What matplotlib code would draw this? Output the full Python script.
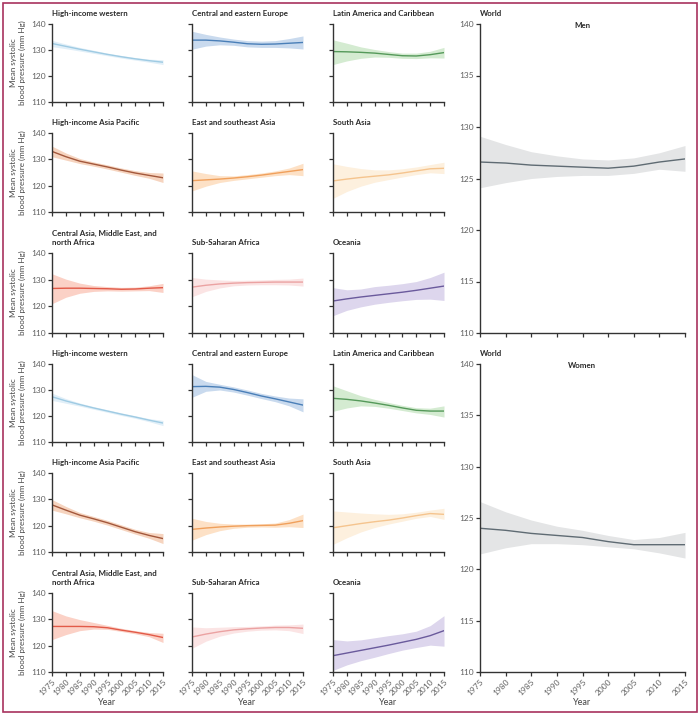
import numpy as np
import matplotlib
matplotlib.use('Agg')
import matplotlib.pyplot as plt
from matplotlib.patches import Rectangle

plt.rcParams['font.family'] = ['Lato', 'DejaVu Sans']

years = [1975, 1980, 1985, 1990, 1995, 2000, 2005, 2010, 2015]
year_labels = ['1975', '1980', '1985', '1990', '1995', '2000', '2005', '2010', '2015']

regions = ['High-income western', 'Central and eastern Europe', 'Latin America and Caribbean',
           'High-income Asia Pacific', 'East and southeast Asia', 'South Asia',
           'Central Asia, Middle East, and\nnorth Africa', 'Sub-Saharan Africa', 'Oceania']

line_colors = ['#9fcbe3', '#4a7fb8', '#55995a', '#a3583c', '#f0a05c', '#f5c48e',
               '#e25a48', '#eba2a2', '#6a5a9c']
band_colors = ['#e1eff8', '#c9daee', '#d4ebd1', '#f6d4bf', '#fde1c6', '#fdf0de',
               '#fbd1c6', '#fbe4e4', '#ddd6ed']
world_line = '#5f6b73'
world_band = '#e4e5e6'

# men (mean, lower, upper)
m_hiw = [132.5, 131.4, 130.3, 129.3, 128.3, 127.4, 126.6, 125.9, 125.3]
m_hiw_lo = [131.3, 130.5, 129.6, 128.7, 127.8, 126.9, 126.1, 125.3, 124.4]
m_hiw_hi = [133.7, 132.3, 131.0, 129.9, 128.8, 127.9, 127.1, 126.5, 126.2]
m_cee = [133.8, 133.8, 133.5, 133.0, 132.4, 132.2, 132.3, 132.6, 132.9]
m_cee_lo = [130.3, 131.5, 132.0, 131.8, 131.2, 131.0, 131.0, 130.8, 130.4]
m_cee_hi = [137.2, 136.0, 135.0, 134.2, 133.6, 133.4, 133.6, 134.4, 135.4]
m_lac = [129.4, 129.3, 129.1, 128.8, 128.3, 127.8, 127.7, 128.2, 129.0]
m_lac_lo = [124.4, 125.8, 126.8, 127.3, 127.2, 126.8, 126.7, 127.0, 126.9]
m_lac_hi = [133.9, 132.6, 131.2, 130.2, 129.4, 128.8, 128.8, 129.5, 131.0]
m_hiap = [133.0, 131.0, 129.3, 128.2, 127.1, 125.9, 124.8, 123.9, 123.0]
m_hiap_lo = [131.0, 129.7, 128.4, 127.4, 126.3, 125.1, 123.9, 122.8, 121.2]
m_hiap_hi = [135.0, 132.4, 130.3, 129.0, 127.9, 126.7, 125.7, 125.0, 124.8]
m_esea = [121.9, 122.2, 122.5, 122.9, 123.4, 124.0, 124.7, 125.4, 126.1]
m_esea_lo = [118.0, 119.8, 121.2, 122.0, 122.6, 123.2, 123.8, 124.2, 123.8]
m_esea_hi = [125.6, 124.6, 123.8, 123.7, 124.2, 124.8, 125.6, 126.7, 128.5]
m_sa = [121.8, 122.5, 123.1, 123.6, 124.1, 124.8, 125.6, 126.4, 126.6]
m_sa_lo = [115.2, 117.8, 119.8, 121.3, 122.3, 123.3, 124.2, 124.9, 124.6]
m_sa_hi = [128.3, 127.3, 126.5, 126.0, 126.0, 126.4, 127.1, 128.0, 128.9]
m_came = [126.7, 126.8, 126.8, 126.7, 126.6, 126.4, 126.5, 126.8, 127.0]
m_came_lo = [121.0, 123.4, 124.9, 125.6, 125.8, 125.7, 125.8, 125.9, 125.2]
m_came_hi = [132.2, 130.2, 128.7, 127.8, 127.4, 127.1, 127.2, 127.7, 128.6]
m_ssa = [127.2, 127.9, 128.4, 128.7, 128.9, 129.0, 129.1, 129.1, 129.1]
m_ssa_lo = [123.6, 125.6, 126.9, 127.7, 128.0, 128.1, 128.1, 128.0, 127.6]
m_ssa_hi = [130.8, 130.2, 129.9, 129.7, 129.8, 129.9, 130.1, 130.2, 130.6]
m_oce = [122.0, 122.8, 123.5, 124.1, 124.7, 125.3, 126.0, 126.8, 127.6]
m_oce_lo = [116.5, 118.5, 119.8, 120.8, 121.5, 122.1, 122.6, 122.7, 122.2]
m_oce_hi = [127.0, 126.2, 126.5, 127.4, 127.9, 128.5, 129.3, 130.8, 132.8]
m_world = [126.6, 126.5, 126.3, 126.2, 126.1, 126.0, 126.2, 126.6, 126.9]
m_world_lo = [124.1, 124.6, 125.0, 125.2, 125.3, 125.3, 125.5, 125.9, 125.7]
m_world_hi = [129.1, 128.3, 127.6, 127.2, 126.9, 126.8, 127.0, 127.5, 128.2]

# women (mean, lower, upper)
w_hiw = [127.4, 125.8, 124.4, 123.1, 121.9, 120.7, 119.6, 118.4, 117.3]
w_hiw_lo = [126.0, 124.9, 123.8, 122.6, 121.4, 120.2, 119.1, 117.8, 116.3]
w_hiw_hi = [128.8, 126.7, 125.0, 123.6, 122.4, 121.2, 120.1, 119.0, 118.3]
w_cee = [131.3, 131.4, 131.1, 130.2, 129.0, 127.7, 126.6, 125.4, 124.2]
w_cee_lo = [127.2, 129.5, 130.0, 129.2, 128.0, 126.7, 125.5, 123.9, 121.6]
w_cee_hi = [135.9, 133.3, 132.2, 131.2, 130.0, 128.7, 127.7, 126.9, 126.6]
w_lac = [126.8, 126.4, 125.8, 125.0, 124.1, 123.1, 122.2, 121.9, 121.9]
w_lac_lo = [121.8, 123.1, 123.9, 123.7, 123.0, 122.1, 121.2, 120.6, 119.6]
w_lac_hi = [131.6, 129.7, 127.8, 126.4, 125.2, 124.1, 123.2, 123.0, 123.9]
w_hiap = [127.9, 125.9, 124.0, 122.6, 121.1, 119.4, 117.7, 116.3, 115.1]
w_hiap_lo = [125.9, 124.5, 123.0, 121.7, 120.2, 118.5, 116.8, 115.2, 113.2]
w_hiap_hi = [129.9, 127.3, 125.0, 123.5, 122.0, 120.3, 118.6, 117.4, 117.0]
w_esea = [118.6, 119.1, 119.5, 119.8, 120.0, 120.1, 120.2, 120.9, 121.9]
w_esea_lo = [114.5, 116.6, 118.1, 119.0, 119.4, 119.5, 119.4, 119.6, 119.3]
w_esea_hi = [122.8, 121.6, 120.9, 120.6, 120.6, 120.7, 121.0, 122.3, 124.4]
w_sa = [119.2, 120.0, 120.8, 121.5, 122.1, 122.9, 123.8, 124.6, 124.3]
w_sa_lo = [112.9, 115.4, 117.6, 119.3, 120.6, 121.7, 122.8, 123.5, 122.4]
w_sa_hi = [125.6, 125.2, 124.8, 124.5, 124.3, 124.5, 125.1, 125.9, 126.6]
w_came = [127.3, 127.3, 127.3, 127.2, 126.8, 125.9, 125.1, 124.2, 123.1]
w_came_lo = [122.3, 124.2, 125.7, 126.3, 126.2, 125.4, 124.5, 123.4, 121.2]
w_came_hi = [133.3, 131.3, 129.9, 128.8, 127.7, 126.6, 125.7, 125.0, 124.7]
w_ssa = [123.3, 124.4, 125.3, 126.0, 126.4, 126.7, 126.9, 126.9, 126.6]
w_ssa_lo = [119.0, 121.7, 123.6, 124.8, 125.5, 125.9, 126.0, 125.7, 124.6]
w_ssa_hi = [127.1, 126.8, 127.0, 127.2, 127.3, 127.5, 127.8, 127.9, 128.2]
w_oce = [116.2, 117.2, 118.2, 119.2, 120.2, 121.3, 122.4, 123.8, 125.7]
w_oce_lo = [110.6, 112.7, 114.3, 115.6, 117.0, 118.3, 119.3, 120.2, 119.8]
w_oce_hi = [122.3, 121.8, 122.2, 123.0, 123.8, 124.5, 125.5, 127.6, 131.4]
w_world = [124.0, 123.8, 123.5, 123.3, 123.1, 122.7, 122.4, 122.4, 122.4]
w_world_lo = [121.5, 122.1, 122.5, 122.5, 122.4, 122.2, 122.0, 121.6, 121.1]
w_world_hi = [126.6, 125.6, 124.8, 124.2, 123.8, 123.3, 122.9, 123.1, 123.6]

men = [(m_hiw, m_hiw_lo, m_hiw_hi), (m_cee, m_cee_lo, m_cee_hi), (m_lac, m_lac_lo, m_lac_hi),
       (m_hiap, m_hiap_lo, m_hiap_hi), (m_esea, m_esea_lo, m_esea_hi), (m_sa, m_sa_lo, m_sa_hi),
       (m_came, m_came_lo, m_came_hi), (m_ssa, m_ssa_lo, m_ssa_hi), (m_oce, m_oce_lo, m_oce_hi)]
women = [(w_hiw, w_hiw_lo, w_hiw_hi), (w_cee, w_cee_lo, w_cee_hi), (w_lac, w_lac_lo, w_lac_hi),
         (w_hiap, w_hiap_lo, w_hiap_hi), (w_esea, w_esea_lo, w_esea_hi), (w_sa, w_sa_lo, w_sa_hi),
         (w_came, w_came_lo, w_came_hi), (w_ssa, w_ssa_lo, w_ssa_hi), (w_oce, w_oce_lo, w_oce_hi)]

W, H = 700, 715
fig = plt.figure(figsize=(W / 100, H / 100), dpi=100)

# frame around the figure
fig.patches.append(Rectangle((3 / W, 3 / H), 694 / W, 709 / H, transform=fig.transFigure,
                             fill=False, edgecolor='#a8325e', linewidth=1.2))

col_x = [52, 192, 333]
col_w = 111
row_y = [(24, 102), (133, 212), (253, 333), (364, 442), (473, 552), (593, 672)]
tick_col = '#606060'
spine_col = '#333333'


def add_ax(x0, top, width, bottom):
    return fig.add_axes([x0 / W, 1 - bottom / H, width / W, (bottom - top) / H])


def style(ax, yticks, show_ylab, show_xlab):
    for s in ['top', 'right']:
        ax.spines[s].set_visible(False)
    for s in ['left', 'bottom']:
        ax.spines[s].set_color(spine_col)
        ax.spines[s].set_linewidth(1.0)
    ax.set_xlim(1975, 2015)
    ax.set_xticks(years)
    ax.set_yticks(yticks)
    ax.tick_params(direction='out', length=3, width=0.9, color=spine_col,
                   labelsize=6, labelcolor=tick_col, pad=1.5)
    if show_ylab:
        ax.set_yticklabels([str(t) for t in yticks])
    else:
        ax.set_yticklabels([])
    if show_xlab:
        ax.set_xticklabels(year_labels, rotation=45, ha='right', rotation_mode='anchor')
        ax.set_xlabel('Year', fontsize=6.5, color='#444444', labelpad=1)
    else:
        ax.set_xticklabels([])


def draw(ax, series, lc, bc):
    mean, lo, hi = series
    ax.fill_between(years, lo, hi, color=bc, linewidth=0)
    ax.plot(years, mean, color=lc, linewidth=1.0)


for sex, data in enumerate([men, women]):
    for i in range(9):
        r, c = i // 3, i % 3
        top, bottom = row_y[sex * 3 + r]
        ax = add_ax(col_x[c], top, col_w, bottom)
        draw(ax, data[i], line_colors[i], band_colors[i])
        ax.set_ylim(110, 140)
        style(ax, [110, 120, 130, 140], c == 0, sex == 1 and r == 2)
        ax.annotate(regions[i], xy=(0, 1), xycoords='axes fraction', xytext=(0, 7),
                    textcoords='offset pixels', ha='left', va='bottom',
                    fontsize=5.7, fontweight='bold', color='#2a2a2a', linespacing=1.35)
        if c == 0:
            ax.set_ylabel('Mean systolic\nblood pressure (mm Hg)', fontsize=5.8,
                          color='#444444', labelpad=4, linespacing=1.2)

world = [(m_world, m_world_lo, m_world_hi), (w_world, w_world_lo, w_world_hi)]
world_pos = [(24, 333), (364, 672)]
for sex in range(2):
    top, bottom = world_pos[sex]
    ax = add_ax(480, top, 205, bottom)
    draw(ax, world[sex], world_line, world_band)
    ax.set_ylim(110, 140)
    style(ax, [110, 115, 120, 125, 130, 135, 140], True, sex == 1)
    ax.annotate('World', xy=(0, 1), xycoords='axes fraction', xytext=(0, 7),
                textcoords='offset pixels', ha='left', va='bottom',
                fontsize=5.7, fontweight='bold', color='#2a2a2a')
    ax.text(0.5, 0.995, ['Men', 'Women'][sex], transform=ax.transAxes, ha='center',
            va='center', fontsize=5.7, fontweight='bold', color='#2a2a2a')

plt.savefig('out.png', dpi=100)
